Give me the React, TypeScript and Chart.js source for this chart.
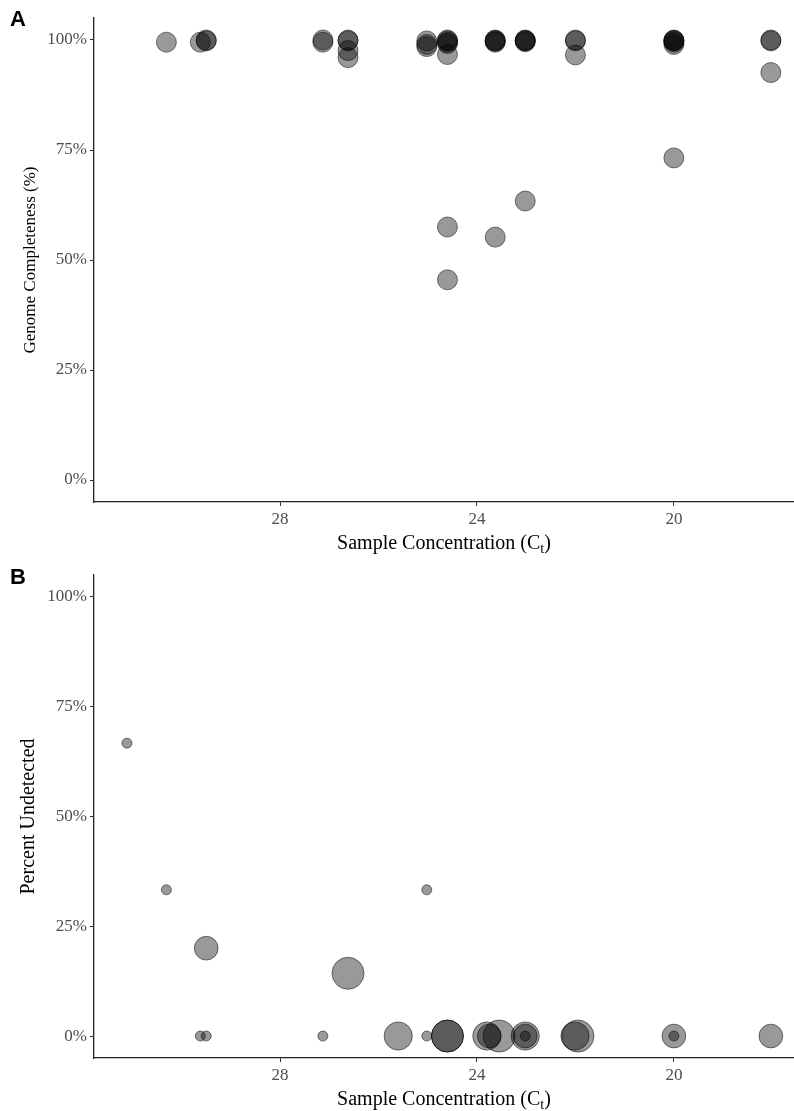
import React, { useEffect, useRef } from "react";
import { Chart, registerables } from "chart.js";

Chart.register(...registerables);

// ---- data ----
const xTickValues = [28, 24, 20];
const yTickValues = [0, 25, 50, 75, 100];

// Panel A: genome completeness (%) vs sample Ct
const ctA = [
  30.31, 29.62, 29.5, 29.5, 27.13, 27.13, 26.62, 26.62, 26.62, 26.62,
  25.02, 25.02, 25.02, 24.6, 24.6, 24.6, 24.6, 24.6, 24.6, 24.6,
  23.63, 23.63, 23.63, 23.63, 23.63, 23.02, 23.02, 23.02, 23.02, 23.02,
  22.0, 22.0, 22.0, 20.0, 20.0, 20.0, 20.0, 20.0, 20.0, 18.03, 18.03, 18.03,
];
const completenessA = [
  99.5, 99.5, 100, 99.8, 100, 99.5, 100, 99.8, 97.6, 96.0,
  99.8, 99.0, 98.5, 100, 99.8, 99.5, 99.2, 96.7, 57.5, 45.5,
  100, 99.9, 99.7, 99.5, 55.2, 100, 99.9, 99.8, 99.6, 63.4,
  100, 99.8, 96.6, 100, 99.9, 99.8, 99.5, 99.0, 73.2, 100, 99.8, 92.6,
];

// Panel B: percent undetected vs sample Ct, bubble size = number of targets
const ctB = [
  31.11, 30.31, 29.5, 29.62, 29.5, 27.13, 26.62, 25.6, 25.02, 25.02,
  24.6, 24.6, 23.8, 23.75, 23.55, 23.02, 23.02, 23.02, 21.95, 22.01,
  20.0, 20.0, 18.03,
];
const undetectedB = [
  66.7, 33.3, 20.0, 0, 0, 0, 14.3, 0, 0, 33.3,
  0, 0, 0, 0, 0, 0, 0, 0, 0, 0,
  0, 0, 0,
];
const targetsB = [
  3, 3, 5, 3, 3, 3, 7, 6, 3, 3,
  7, 7, 6, 5, 7, 6, 5, 3, 7, 6,
  5, 3, 5,
];

const X_TITLE_MAIN = "Sample Concentration (C";
const X_TITLE_SUB = "t";
const X_TITLE_END = ")";

// ---- styling ----
const X_MIN = 17.56;
const X_MAX = 31.78;
const SERIF = "'Liberation Serif', 'Times New Roman', serif";
const FILL = "rgba(0,0,0,0.4)";
const EDGE = "rgba(0,0,0,0.5)";

const bubbleRadius = (n: number) => Math.sqrt(25 + 58 * (n - 3));

const xTitlePlugin = {
  id: "xTitleSub",
  afterDraw(chart: any) {
    const { ctx, chartArea } = chart;
    const cx = (chartArea.left + chartArea.right) / 2;
    const y = chartArea.bottom + 42;
    const main = `20px ${SERIF}`;
    const sub = `14px ${SERIF}`;
    ctx.save();
    ctx.font = main;
    const w1 = ctx.measureText(X_TITLE_MAIN).width;
    const w3 = ctx.measureText(X_TITLE_END).width;
    ctx.font = sub;
    const w2 = ctx.measureText(X_TITLE_SUB).width;
    let x = cx - (w1 + w2 + w3) / 2;
    ctx.fillStyle = "#000";
    ctx.textBaseline = "middle";
    ctx.textAlign = "left";
    ctx.font = main;
    ctx.fillText(X_TITLE_MAIN, x, y);
    x += w1;
    ctx.font = sub;
    ctx.fillText(X_TITLE_SUB, x, y + 5);
    x += w2;
    ctx.font = main;
    ctx.fillText(X_TITLE_END, x, y);
    ctx.restore();
  },
};

const zeroPad = (s: any) => {
  s.paddingLeft = 0;
  s.paddingRight = 0;
  s.paddingTop = 0;
  s.paddingBottom = 0;
};

function makeScales(xHeight: number, yTitle: string, yTitleSize: number, yTitlePad: number) {
  const grid = { drawOnChartArea: false, drawTicks: true, tickLength: 4, color: "#333", lineWidth: 1 };
  const border = { display: true, color: "#222", width: 1.3 };
  const tickFont = { family: SERIF, size: 17 };
  return {
    x: {
      type: "linear",
      reverse: true,
      min: X_MIN,
      max: X_MAX,
      afterBuildTicks: (s: any) => {
        s.ticks = xTickValues.map((v) => ({ value: v }));
      },
      afterFit: (s: any) => {
        s.height = xHeight;
        zeroPad(s);
      },
      grid,
      border,
      ticks: { font: tickFont, color: "#4d4d4d", padding: 3, maxRotation: 0, autoSkip: false },
    },
    y: {
      type: "linear",
      min: -5,
      max: 105,
      afterBuildTicks: (s: any) => {
        s.ticks = yTickValues.map((v) => ({ value: v }));
      },
      afterFit: (s: any) => {
        s.width = 94;
        zeroPad(s);
      },
      grid,
      border,
      ticks: {
        font: tickFont,
        color: "#4d4d4d",
        padding: 3,
        autoSkip: false,
        callback: (v: any) => `${v}%`,
      },
      title: {
        display: true,
        text: yTitle,
        color: "#000",
        font: { family: SERIF, size: yTitleSize },
        padding: { top: yTitlePad, bottom: 0 },
      },
    },
  };
}

export default function App() {
  const refA = useRef<HTMLCanvasElement>(null);
  const refB = useRef<HTMLCanvasElement>(null);

  useEffect(() => {
    const chartA = new Chart(refA.current as HTMLCanvasElement, {
      type: "scatter",
      data: {
        datasets: [
          {
            data: ctA.map((x, i) => ({ x, y: completenessA[i] })),
            pointRadius: 10,
            pointHoverRadius: 10,
            backgroundColor: FILL,
            borderColor: EDGE,
            borderWidth: 1,
          },
        ],
      },
      options: {
        responsive: false,
        animation: false,
        devicePixelRatio: 1,
        layout: { autoPadding: false, padding: { top: 18, left: 0, right: 0, bottom: 0 } },
        plugins: { legend: { display: false }, tooltip: { enabled: false } },
        scales: makeScales(58, "Genome Completeness (%)", 17, 20) as any,
      },
      plugins: [xTitlePlugin],
    } as any);

    const chartB = new Chart(refB.current as HTMLCanvasElement, {
      type: "bubble",
      data: {
        datasets: [
          {
            data: ctB.map((x, i) => ({ x, y: undetectedB[i], r: bubbleRadius(targetsB[i]) })),
            backgroundColor: FILL,
            borderColor: EDGE,
            borderWidth: 1,
          },
        ],
      },
      options: {
        responsive: false,
        animation: false,
        devicePixelRatio: 1,
        layout: { autoPadding: false, padding: { top: 15, left: 0, right: 0, bottom: 0 } },
        plugins: { legend: { display: false }, tooltip: { enabled: false } },
        scales: makeScales(53, "Percent Undetected", 20, 17) as any,
      },
      plugins: [xTitlePlugin],
    } as any);

    return () => {
      chartA.destroy();
      chartB.destroy();
    };
  }, []);

  const panelLabel: React.CSSProperties = {
    position: "absolute",
    left: 10,
    fontFamily: "'Liberation Sans', Arial, sans-serif",
    fontWeight: "bold",
    fontSize: 22,
    lineHeight: 1,
    color: "#000",
  };

  return (
    <div style={{ position: "absolute", left: 0, top: 0, width: 794, height: 1111, background: "#fff" }}>
      <canvas ref={refA} width={794} height={560} style={{ position: "absolute", left: 0, top: 0 }} />
      <canvas ref={refB} width={794} height={551} style={{ position: "absolute", left: 0, top: 560 }} />
      <div style={{ ...panelLabel, top: 8 }}>A</div>
      <div style={{ ...panelLabel, top: 566 }}>B</div>
    </div>
  );
}
